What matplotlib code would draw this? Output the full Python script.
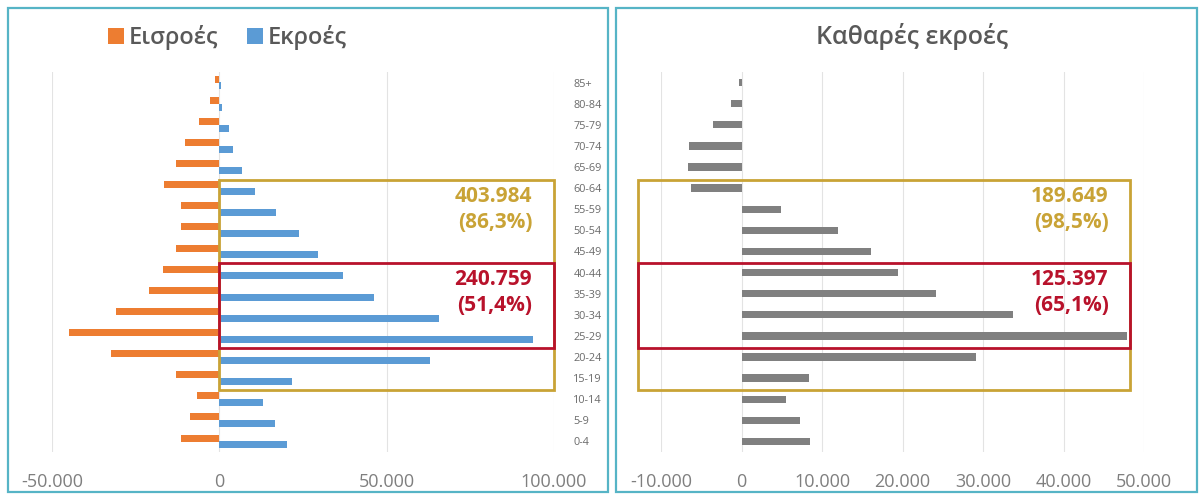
import matplotlib
matplotlib.use("Agg")
import matplotlib.pyplot as plt
from matplotlib.patches import Rectangle
import numpy as np

plt.rcParams['font.family'] = ['Open Sans', 'DejaVu Sans']

# age groups, bottom to top
age_groups = ["0-4", "5-9", "10-14", "15-19", "20-24", "25-29", "30-34", "35-39",
              "40-44", "45-49", "50-54", "55-59", "60-64", "65-69", "70-74",
              "75-79", "80-84", "85+"]
inflows = [-11400, -8700, -6600, -12900, -32400, -45000, -30900, -21000,
           -16800, -12900, -11400, -11400, -16500, -12900, -10200, -6000,
           -2700, -1200]
outflows = [20100, 16500, 12900, 21600, 63000, 93600, 65700, 46200,
            36900, 29400, 23700, 16800, 10800, 6900, 4200, 3000, 900, 500]
net_outflows = [8520, 7240, 5520, 8380, 29180, 47850, 33750, 24140,
                19420, 16140, 12040, 4900, -6330, -6620, -6520, -3570,
                -1290, -250]

left_ticks = [-50000, 0, 50000, 100000]
right_ticks = [-10000, 0, 10000, 20000, 30000, 40000, 50000]

# group totals written inside the highlight boxes
wide_labels = ["403.984\n(86,3%)", "189.649\n(98,5%)"]
core_labels = ["240.759\n(51,4%)", "125.397\n(65,1%)"]

ORANGE = "#ED7D31"
BLUE = "#5B9BD5"
GREY = "#808080"
GOLD = "#C9A336"
RED = "#B8122B"
TICK = "#7f7f7f"
TEXT = "#595959"


def fmt(v):
    return f"{v:,.0f}".replace(",", ".")


fig = plt.figure(figsize=(12.01, 4.94), dpi=100)

y = np.arange(len(age_groups))

# left panel: inflows vs outflows
ax1 = fig.add_axes([52 / 1201, 42 / 494, 502 / 1201, 380 / 494])
b_in = ax1.barh(y + 0.16, inflows, height=0.33, color=ORANGE, label="Εισροές", zorder=3)
b_out = ax1.barh(y - 0.16, outflows, height=0.33, color=BLUE, label="Εκροές", zorder=3)
ax1.set_xlim(-50000, 100000)
ax1.set_ylim(-0.5, len(age_groups) - 0.5)
ax1.set_xticks(left_ticks)
ax1.set_xticklabels([fmt(v) for v in left_ticks])
ax1.set_yticks(y)
ax1.set_yticklabels(age_groups)
ax1.yaxis.tick_right()
ax1.tick_params(axis='y', length=0, pad=14, labelsize=7.8, labelcolor="#6a6a6a")
ax1.tick_params(axis='x', length=0, pad=15, labelsize=13, labelcolor=TICK)
ax1.grid(axis='x', color="#e3e3e3", lw=0.8, zorder=0)
for s in ax1.spines.values():
    s.set_visible(False)

ax1.add_patch(Rectangle((0, 2.45), 100000, 9.95, fill=False, ec=GOLD, lw=2, zorder=4, clip_on=False))
ax1.add_patch(Rectangle((0, 4.45), 100000, 4.0, fill=False, ec=RED, lw=2, zorder=5, clip_on=False))
ax1.text(93500, 11.0, wide_labels[0], ha='right', va='center', color=GOLD,
         fontsize=15, fontweight='bold', linespacing=1.3, zorder=6)
ax1.text(93500, 7.05, core_labels[0], ha='right', va='center', color=RED,
         fontsize=15, fontweight='bold', linespacing=1.3, zorder=6)

fig.legend(handles=[b_in, b_out], loc='center left', bbox_to_anchor=(0.072, 0.924),
           ncol=2, frameon=False, handlelength=0.7, handleheight=0.7,
           handletextpad=0.2, columnspacing=1.2, labelcolor=TEXT,
           prop={'weight': 'semibold', 'size': 17})

# right panel: net outflows
ax2 = fig.add_axes([661 / 1201, 42 / 494, 483 / 1201, 380 / 494])
ax2.barh(y, net_outflows, height=0.35, color=GREY, zorder=3)
ax2.set_xlim(-10000, 50000)
ax2.set_ylim(-0.5, len(age_groups) - 0.5)
ax2.set_xticks(right_ticks)
ax2.set_xticklabels([fmt(v) for v in right_ticks])
ax2.set_yticks([])
ax2.tick_params(axis='x', length=0, pad=15, labelsize=13, labelcolor=TICK)
ax2.grid(axis='x', color="#e3e3e3", lw=0.8, zorder=0)
for s in ax2.spines.values():
    s.set_visible(False)
fig.text(912 / 1201, 1 - 37 / 494, "Καθαρές εκροές", ha='center', va='center',
         color=TEXT, fontsize=18, fontweight='semibold')

ax2.add_patch(Rectangle((-12900, 2.45), 61100, 9.95, fill=False, ec=GOLD, lw=2, zorder=4, clip_on=False))
ax2.add_patch(Rectangle((-12900, 4.45), 61100, 4.0, fill=False, ec=RED, lw=2, zorder=5, clip_on=False))
ax2.text(45600, 11.0, wide_labels[1], ha='right', va='center', color=GOLD,
         fontsize=15, fontweight='bold', linespacing=1.3, zorder=6)
ax2.text(45600, 7.05, core_labels[1], ha='right', va='center', color=RED,
         fontsize=15, fontweight='bold', linespacing=1.3, zorder=6)

# panel frames
for x0, x1 in [(8, 608), (616, 1197)]:
    fig.add_artist(Rectangle((x0 / 1201, 2 / 494), (x1 - x0) / 1201, 484 / 494,
                             transform=fig.transFigure, fill=False, ec="#56b4c6", lw=1.6))

fig.savefig("out.png", dpi=100)
